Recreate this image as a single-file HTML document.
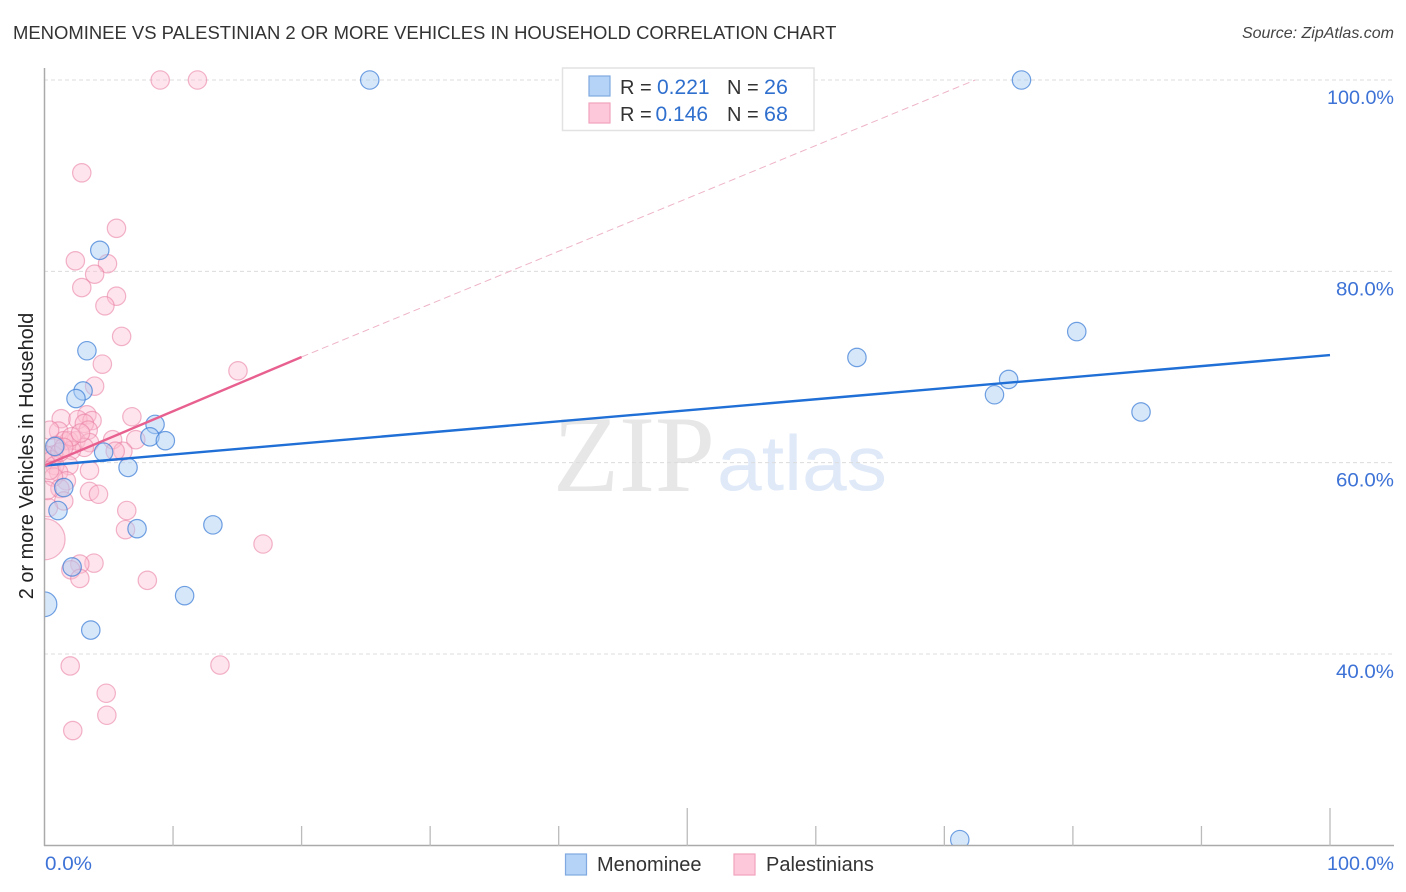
<!DOCTYPE html>
<html lang="en">
<head>
<meta charset="utf-8">
<title>Menominee vs Palestinian 2 or More Vehicles in Household Correlation Chart</title>
<style>
html,body{margin:0;padding:0;background:#fff;}
body{width:1406px;height:892px;overflow:hidden;position:relative;font-family:"Liberation Sans",sans-serif;}
svg{position:absolute;left:0;top:0;}
</style>
</head>
<body>
<svg id="chart" width="1406" height="892" viewBox="0 0 1406 892">
  <defs>
    <clipPath id="plot-clip"><rect x="45" y="60" width="1349" height="785.5"></rect></clipPath>
  </defs>
  <text x="13" y="39" font-size="18.47" fill="#333">MENOMINEE VS PALESTINIAN 2 OR MORE VEHICLES IN HOUSEHOLD CORRELATION CHART</text>
  <text x="1394" y="38" font-size="16" font-style="italic" fill="#444" text-anchor="end">Source: ZipAtlas.com</text>
  <g>
    <text x="553" y="491" font-family="'Liberation Serif',serif" font-size="109" fill="#e7e7e7" textLength="162" lengthAdjust="spacingAndGlyphs">ZIP</text>
    <text x="717" y="490" font-size="78" fill="#dfe9f8" textLength="170" lengthAdjust="spacingAndGlyphs">atlas</text>
  </g>
  <g id="grid"></g>
  <g id="trends" clip-path="url(#plot-clip)"></g>
  <g id="points-pink" clip-path="url(#plot-clip)"></g>
  <g id="points-blue" clip-path="url(#plot-clip)"></g>
  <g id="axes"></g>
  <g>
    <rect x="562.5" y="68" width="251.5" height="62.5" fill="#fff" stroke="#e2e2e2" stroke-width="1.5"></rect>
    <rect x="589" y="76" width="21" height="20" fill="#b5d2f7" stroke="#7fa9e0" stroke-width="1.2"></rect>
    <rect x="589" y="103" width="21" height="20" fill="#fdc8d9" stroke="#f0a3bc" stroke-width="1.2"></rect>
    <text x="620" y="94" font-size="20" fill="#333">R =</text>
    <text x="657" y="94" font-size="21" fill="#2f6fce">0.221</text>
    <text x="727" y="94" font-size="20" fill="#333">N =</text>
    <text x="764" y="94" font-size="21.5" fill="#2f6fce">26</text>
    <text x="620" y="121" font-size="20" fill="#333">R =</text>
    <text x="655.5" y="121" font-size="21" fill="#2f6fce">0.146</text>
    <text x="727" y="121" font-size="20" fill="#333">N =</text>
    <text x="764" y="121" font-size="21.5" fill="#2f6fce">68</text>
  </g>
  <g>
    <rect x="565.5" y="854" width="21" height="21" fill="#b5d2f7" stroke="#7fa9e0" stroke-width="1.2"></rect>
    <text x="597" y="871" font-size="20" fill="#333">Menominee</text>
    <rect x="734" y="854" width="21" height="21" fill="#fdc8d9" stroke="#f0a3bc" stroke-width="1.2"></rect>
    <text x="766" y="871" font-size="20" fill="#333">Palestinians</text>
  </g>
  <text transform="translate(33,456) rotate(-90)" font-size="19.9" fill="#222" text-anchor="middle">2 or more Vehicles in Household</text>
</svg>
<script>
const yTickValues = [100, 80, 60, 40];
const yTickLabels = ['100.0%', '80.0%', '60.0%', '40.0%'];
const xTickValues = [0, 10, 20, 30, 40, 50, 60, 70, 80, 90, 100];
const xEndLabels = ['0.0%', '100.0%'];

const blueX = [25.3,76.0,4.3,3.3,3.0,2.45,8.6,8.2,9.4,4.6,6.5,0.8,1.5,1.05,7.2,13.1,2.15,10.9,0,3.6,63.2,80.3,75.0,73.9,85.3,71.2];
const blueY = [100,100,82.2,71.7,67.5,66.7,64.0,62.7,62.3,61.1,59.5,61.7,57.4,55.0,53.1,53.5,49.1,46.1,45.2,42.5,71.0,73.7,68.7,67.1,65.3,20.6];
const blueWeight = [1,1,1,1,1,1,1,1,1,1,1,1,1,1,1,1,1,1,1.8,1,1,1,1,1,1,1];

const pinkX = [9.0,11.9,2.9,5.6,2.4,4.9,3.9,2.9,5.6,4.7,6.0,4.5,15.05,3.9,3.3,6.8,1.3,2.6,3.7,3.1,1.1,3.4,5.3,7.1,1.9,2.45,1.5,0.9,3.5,3.1,2.1,6.1,0.7,0.1,0.6,1.9,3.5,0.8,1.1,1.7,0.7,1.2,3.5,4.2,1.5,0.3,6.4,6.3,17.0,0,3.85,2.75,2.05,2.75,8.0,2.0,13.65,4.8,4.85,2.2,0.4,5.5,1.2,2.1,0.4,0.2,2.8,1.5];
const pinkY = [100,100,90.3,84.5,81.1,80.8,79.7,78.3,77.4,76.4,73.2,70.3,69.6,68.0,65.0,64.8,64.6,64.5,64.4,64.1,63.3,63.4,62.4,62.4,62.3,62.3,62.3,61.8,62.1,61.6,61.3,61.2,60.8,60.8,60.3,59.7,59.2,59.7,59.0,58.1,58.5,57.3,57.0,56.7,56.0,55.3,55.0,53.0,51.5,52.0,49.5,49.4,48.8,47.9,47.7,38.75,38.85,35.9,33.6,32.0,63.4,61.2,61.1,62.7,59.2,57.1,63.1,61.6];
const pinkWeight = [1,1,1,1,1,1,1,1,1,1,1,1,1,1,1,1,1,1,1,1,1,1,1,1,1,1,1,1,1,1,1,1,1,1,1,1,1,1,1,1,1,1,1,1,1,1,1,1,1,5,1,1,1,1,1,1,1,1,1,1,1,1,1,1,1,1,1,1];

const blueTrendX = [0, 100];
const blueTrendY = [59.7, 71.25];
const pinkTrendX = [0, 20];
const pinkTrendY = [59.7, 71.05];
const pinkDashX = [20, 72.4];
const pinkDashY = [71.05, 100];

const NS = 'http://www.w3.org/2000/svg';
function xScale(v) { return 44.5 + v * 12.855; }
function yScale(v) { return 80 + (100 - v) * 9.567; }
function rScale(w) { return 9.2 * Math.sqrt(w); }
function labelWidth(text) { return text.length === 6 ? 67 : text.length === 5 ? 58 : 47; }

function make(parent, tag, attrs) {
  const el = document.createElementNS(NS, tag);
  for (const k in attrs) el.setAttribute(k, attrs[k]);
  parent.appendChild(el);
  return el;
}

const grid = document.getElementById('grid');
const axes = document.getElementById('axes');
const trends = document.getElementById('trends');
const pinkLayer = document.getElementById('points-pink');
const blueLayer = document.getElementById('points-blue');

yTickValues.forEach(function (v, i) {
  const line = make(grid, 'line', {x1: 44, x2: 1394, y1: yScale(v), y2: yScale(v), stroke: '#dcdcdc', 'stroke-width': 1, 'stroke-dasharray': '4 3'});
  
  
  const w = labelWidth(yTickLabels[i]);
  const label = make(axes, 'text', {x: 1394 - w, y: yScale(v) + 24, 'font-size': 19.5, fill: '#3d72d6', textLength: w, lengthAdjust: 'spacingAndGlyphs'});
  label.textContent = yTickLabels[i];
  
  
});

const yAxis = make(axes, 'line', {x1: 44.5, x2: 44.5, y1: 68, y2: 846, stroke: '#aaa', 'stroke-width': 1.5});


const xAxis = make(axes, 'line', {x1: 44, x2: 1394, y1: 845.5, y2: 845.5, stroke: '#aaa', 'stroke-width': 1.5});



xTickValues.forEach(function (v) {
  if (v === 0) return;
  const top = v % 50 === 0 ? 808 : 826;
  const tick = make(axes, 'line', {x1: xScale(v), x2: xScale(v), y1: top, y2: 846, stroke: '#bbb', 'stroke-width': 1.3});
  
  
});

const xLabelLeft = make(axes, 'text', {x: 45, y: 870, 'font-size': 19.5, fill: '#3d72d6', textLength: labelWidth(xEndLabels[0]), lengthAdjust: 'spacingAndGlyphs'});
xLabelLeft.textContent = xEndLabels[0];


const xLabelRight = make(axes, 'text', {x: 1394 - labelWidth(xEndLabels[1]), y: 870, 'font-size': 19.5, fill: '#3d72d6', textLength: labelWidth(xEndLabels[1]), lengthAdjust: 'spacingAndGlyphs'});
xLabelRight.textContent = xEndLabels[1];



pinkX.forEach(function (v, i) {
  const c = make(pinkLayer, 'circle', {cx: xScale(v), cy: yScale(pinkY[i]), r: rScale(pinkWeight[i]), fill: 'rgba(253,190,210,0.42)', stroke: 'rgba(232,120,158,0.55)', 'stroke-width': 1.2});
  
  
});
blueX.forEach(function (v, i) {
  const c = make(blueLayer, 'circle', {cx: xScale(v), cy: yScale(blueY[i]), r: rScale(blueWeight[i]), fill: 'rgba(170,205,245,0.48)', stroke: 'rgba(60,125,215,0.72)', 'stroke-width': 1.2});
  
  
});

const dash = make(trends, 'line', {x1: xScale(pinkDashX[0]), y1: yScale(pinkDashY[0]), x2: xScale(pinkDashX[1]), y2: yScale(pinkDashY[1]), stroke: '#eeb4c7', 'stroke-width': 1, 'stroke-dasharray': '7 4'});


const blueLine = make(trends, 'line', {x1: xScale(blueTrendX[0]), y1: yScale(blueTrendY[0]), x2: xScale(blueTrendX[1]), y2: yScale(blueTrendY[1]), stroke: '#1f6fd6', 'stroke-width': 2.4});


const pinkLine = make(trends, 'line', {x1: xScale(pinkTrendX[0]), y1: yScale(pinkTrendY[0]), x2: xScale(pinkTrendX[1]), y2: yScale(pinkTrendY[1]), stroke: '#e8608f', 'stroke-width': 2.4});


// Trend lines sit above the point layers, as in the reference.
const chart = document.getElementById('chart');
chart.insertBefore(trends, document.getElementById('axes'));
</script>
</body>
</html>
